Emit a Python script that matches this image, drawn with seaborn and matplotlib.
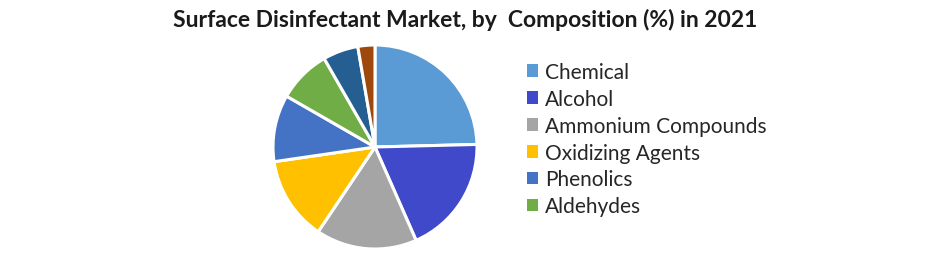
import matplotlib
matplotlib.use("Agg")
import matplotlib.pyplot as plt
import seaborn as sns
from matplotlib.patches import Patch

sns.set_theme(style="white")
plt.rcParams['font.family'] = ['Lato', 'DejaVu Sans']

categories = ["Chemical", "Alcohol", "Ammonium Compounds", "Oxidizing Agents",
              "Phenolics", "Aldehydes", "Peracetic Acid", "Others"]
shares = [24.6, 18.8, 16.0, 13.3, 10.6, 8.4, 5.6, 2.7]
colors = ["#5B9BD5", "#4049C9", "#A5A5A5", "#FFC000", "#4472C4", "#70AD47",
          "#255E91", "#9E480E"]
legend_shown = 6

fig = plt.figure(figsize=(9.41, 2.55), dpi=100)
R = 102
ax = fig.add_axes([(375 - R)/941, (255 - 148 - R)/255, 2*R/941, 2*R/255])
ax.pie(shares, colors=colors, startangle=90, counterclock=False,
       wedgeprops=dict(edgecolor="white", linewidth=2.2))
ax.set_xlim(-1, 1)
ax.set_ylim(-1, 1)
ax.set_aspect("equal")
ax.axis("off")

fig.text(465/941, 1 - 20/255, "Surface Disinfectant Market, by  Composition (%) in 2021",
         ha="center", va="center", fontsize=16.5, fontweight="bold", color="#1a1a1a")

handles = [Patch(facecolor=c, edgecolor="none") for c in colors[:legend_shown]]
fig.legend(handles, categories[:legend_shown], loc="upper left",
           bbox_to_anchor=(527/941, 1 - 63/255), frameon=False,
           fontsize=15, handlelength=0.55, handleheight=0.55, handletextpad=0.3,
           labelspacing=0.33, borderaxespad=0, borderpad=0)

fig.savefig("out.png", dpi=100)
